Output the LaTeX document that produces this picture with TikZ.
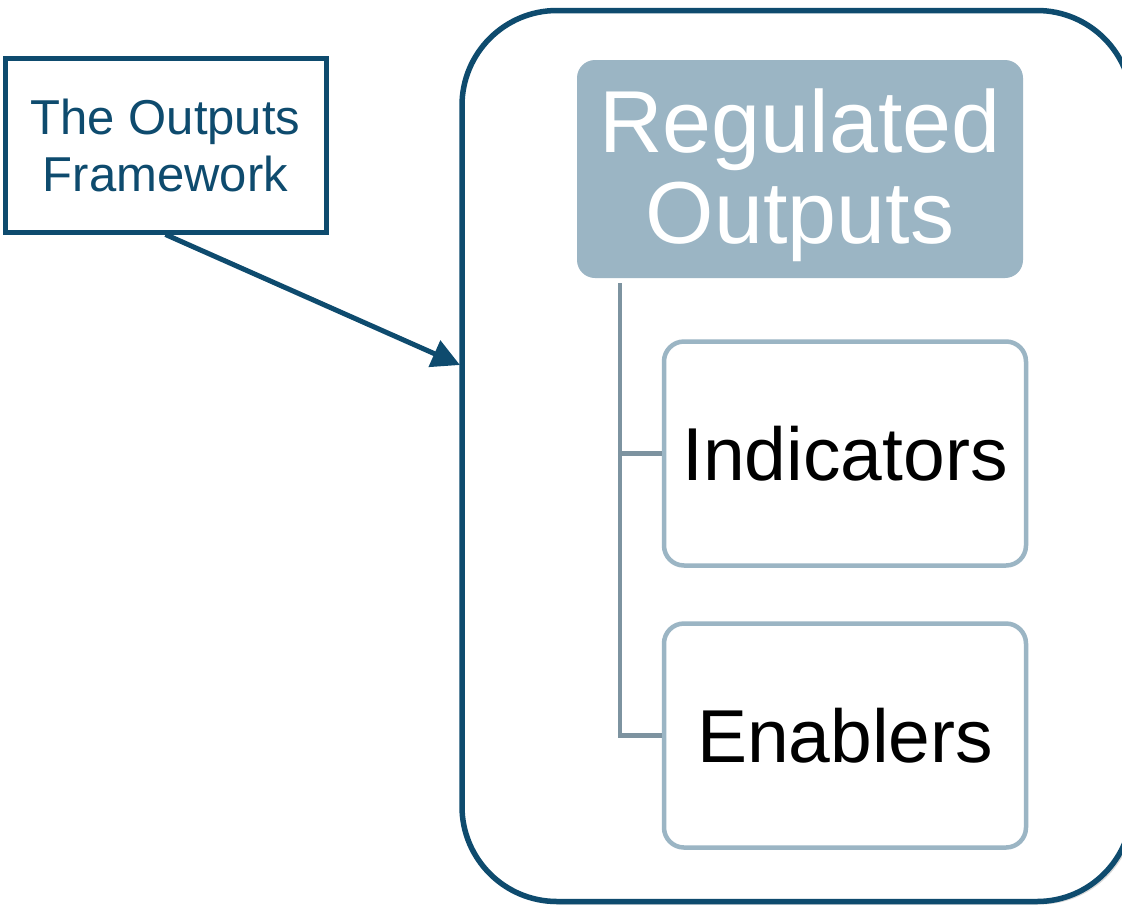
\documentclass[tikz,border=0pt]{standalone}
\usepackage{fontspec}
\setmainfont{Liberation Sans}
\usetikzlibrary{arrows.meta,shadows,calc}
\definecolor{navy}{RGB}{14,75,110}
\definecolor{steel}{RGB}{155,181,196}
\definecolor{conn}{RGB}{125,147,160}
\begin{document}
\begin{tikzpicture}[x=1pt,y=-1pt,
  softshadow/.style={drop shadow={shadow xshift=3pt,shadow yshift=-3pt,opacity=0.3,fill=black!50}},
  framebox/.style={draw=navy,line width=5.5pt,rounded corners=95pt,fill=white,softshadow},
  callbox/.style={draw=navy,line width=5pt,fill=white,text=navy,align=center,
    font=\fontsize{49}{57}\selectfont,softshadow},
  headbox/.style={fill=steel,rounded corners=18pt,text=white,
    font=\fontsize{88}{91}\selectfont},
  itembox/.style={draw=steel,line width=4.5pt,rounded corners=20pt,fill=white,
    font=\fontsize{75}{80}\selectfont,minimum width=362pt,minimum height=224pt},
  link/.style={draw=conn,line width=4.5pt}
]
\useasboundingbox (0,0) rectangle (1122,906);
\clip (0,0) rectangle (1122,906);
\node[framebox,minimum width=670pt,minimum height=891pt] (frame) at (797,456) {};
\node[callbox,minimum width=321pt,minimum height=174pt] (callout) at (165.5,145) {The Outputs\\Framework};
\node[headbox,minimum width=446pt,minimum height=218pt] (reg) at (800,169)
  {\raisebox{-11pt}[\height][\depth]{\begin{tabular}{@{}c@{}}Regulated\\Outputs\end{tabular}}};
\node[itembox] (ind) at (845,453.5) {Indicators};
\node[itembox] (ena) at (845,735.5) {Enablers};
\coordinate (trunk) at ($(reg.south west)+(43pt,-5pt)$);
\draw[link] (trunk) |- (ind.west);
\draw[link] (trunk) |- (ena.west);
\coordinate (tip) at (460,365);
\draw[navy,line width=5pt,-{Triangle[length=28pt,width=28pt]}] (callout.south) -- (tip);
\end{tikzpicture}
\end{document}
